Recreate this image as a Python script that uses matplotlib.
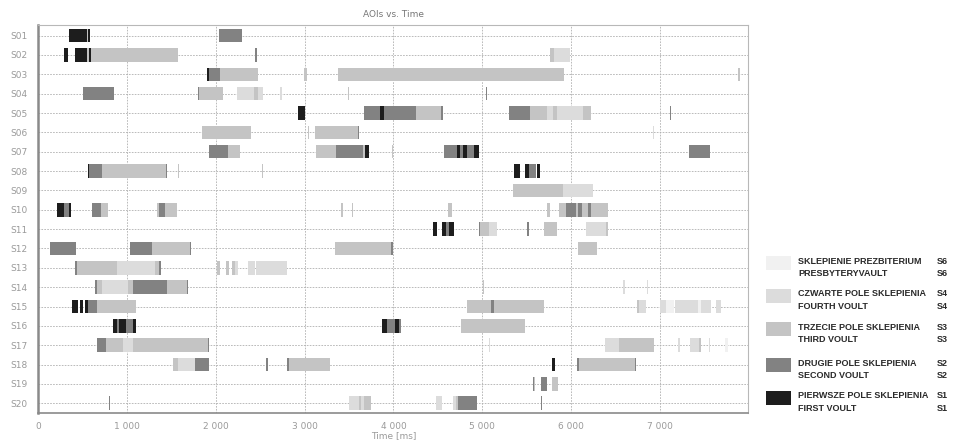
import matplotlib
matplotlib.use("Agg")
import matplotlib.pyplot as plt
from matplotlib.patches import Rectangle
from matplotlib.ticker import FuncFormatter

# AOI codes: 1 = first vault, 2 = second, 3 = third, 4 = fourth, 6 = presbytery
subjects = ["S%02d" % i for i in range(1, 21)]
x_ticks = [0, 1000, 2000, 3000, 4000, 5000, 6000, 7000]

# (start ms, end ms, aoi) per subject
s01 = [(346, 548, 1), (548, 565, 3), (565, 582, 1), (2035, 2300, 2)]
s02 = [(293, 338, 1), (410, 552, 1), (552, 567, 3), (567, 593, 1), (593, 1570, 3),
       (2440, 2465, 2), (5765, 5810, 3), (5810, 5987, 4)]
s03 = [(1903, 1922, 1), (1922, 2043, 2), (2043, 2470, 3), (2992, 3030, 3),
       (3378, 5923, 3), (7885, 7900, 3)]
s04 = [(507, 856, 2), (1800, 1815, 2), (1815, 2083, 3), (2234, 2432, 4), (2432, 2470, 3),
       (2470, 2533, 4), (2725, 2745, 4), (3483, 3500, 3), (5040, 5058, 2)]
s05 = [(2928, 3003, 1), (3671, 3848, 2), (3848, 3892, 1), (3892, 4253, 2), (4253, 4535, 3),
       (4535, 4555, 2), (5300, 5537, 2), (5537, 5725, 3), (5725, 5800, 4), (5800, 5845, 3),
       (5845, 6137, 4), (6137, 6231, 3), (7113, 7128, 2)]
s06 = [(1840, 2392, 3), (3033, 3046, 3), (3116, 3596, 3), (3596, 3616, 2), (6923, 6937, 4)]
s07 = [(1926, 2132, 2), (2132, 2271, 3), (3127, 3352, 3), (3352, 3652, 2), (3652, 3675, 3),
       (3682, 3720, 1), (3985, 3998, 3), (4568, 4711, 2), (4711, 4748, 1), (4748, 4786, 2),
       (4786, 4831, 1), (4831, 4906, 2), (4906, 4966, 1), (7331, 7571, 2)]
s08 = [(563, 574, 1), (574, 714, 2), (714, 1435, 3), (1435, 1450, 2), (1570, 1585, 3),
       (2515, 2530, 3), (5357, 5425, 1), (5484, 5522, 1), (5522, 5604, 2), (5612, 5649, 1)]
s09 = [(5349, 5905, 3), (5905, 6243, 4)]
s10 = [(214, 289, 1), (289, 346, 2), (346, 368, 1), (608, 703, 2), (703, 781, 3),
       (1333, 1363, 3), (1363, 1427, 2), (1427, 1566, 3), (3413, 3428, 3), (3529, 3544, 3),
       (4617, 4662, 3), (5728, 5765, 3), (5869, 5942, 3), (5942, 6055, 2), (6055, 6085, 3),
       (6085, 6130, 2), (6130, 6193, 3), (6193, 6231, 2), (6231, 6418, 3)]
s11 = [(4441, 4486, 1), (4542, 4591, 1), (4591, 4628, 2), (4628, 4681, 1), (4959, 4973, 2),
       (4973, 5075, 3), (5075, 5165, 4), (5510, 5525, 2), (5694, 5844, 3), (6175, 6400, 4),
       (6400, 6418, 3)]
s12 = [(135, 425, 2), (1033, 1284, 2), (1284, 1710, 3), (1710, 1725, 2), (3341, 3970, 3),
       (3970, 3990, 2), (6074, 6295, 3)]
s13 = [(410, 432, 2), (432, 883, 3), (883, 1314, 4), (1314, 1359, 3), (1359, 1385, 2),
       (2009, 2046, 3), (2110, 2151, 3), (2185, 2215, 3), (2215, 2249, 4), (2365, 2440, 4),
       (2451, 2797, 4)]
s14 = [(638, 657, 2), (657, 714, 3), (714, 1007, 4), (1007, 1063, 3), (1063, 1446, 2),
       (1446, 1671, 3), (1671, 1690, 2), (5004, 5018, 3), (6587, 6606, 4), (6855, 6869, 4)]
s15 = [(383, 443, 1), (470, 507, 1), (526, 563, 1), (563, 657, 2), (657, 1097, 3),
       (4824, 5097, 3), (5097, 5131, 2), (5131, 5694, 3), (6745, 6767, 3), (6767, 6843, 4),
       (7008, 7076, 4), (7076, 7160, 6), (7177, 7432, 4), (7432, 7470, 6), (7470, 7583, 4),
       (7639, 7695, 4)]
s16 = [(845, 883, 1), (883, 912, 2), (912, 988, 1), (988, 1070, 2), (1070, 1097, 1),
       (3867, 3923, 1), (3923, 4017, 2), (4017, 4065, 1), (4065, 4080, 2), (4767, 5480, 3)]
s17 = [(657, 762, 2), (762, 957, 3), (957, 1070, 4), (1070, 1914, 3), (1914, 1925, 2),
       (5072, 5086, 4), (6381, 6542, 4), (6542, 6933, 3), (7211, 7225, 4), (7338, 7443, 4),
       (7443, 7470, 3), (7556, 7570, 4), (7732, 7770, 6)]
s18 = [(1520, 1577, 3), (1577, 1765, 4), (1765, 1926, 2), (2562, 2582, 2), (2797, 2820, 2),
       (2820, 3285, 3), (5792, 5822, 1), (6069, 6092, 2), (6092, 6719, 3), (6719, 6730, 2)]
s19 = [(5574, 5585, 2), (5585, 5600, 3), (5668, 5725, 2), (5792, 5855, 3)]
s20 = [(800, 811, 2), (3502, 3615, 4), (3615, 3640, 3), (3640, 3671, 4), (3671, 3743, 3),
       (4478, 4553, 4), (4666, 4703, 4), (4703, 4733, 3), (4733, 4943, 2), (5661, 5675, 2)]

rows = [s01, s02, s03, s04, s05, s06, s07, s08, s09, s10,
        s11, s12, s13, s14, s15, s16, s17, s18, s19, s20]

aoi_colors = {1: "#1d1d1d", 2: "#828282", 3: "#c4c4c4", 4: "#dcdcdc", 6: "#f1f1f1"}

legend_codes = [6, 4, 3, 2, 1]
legend_pl = ["SKLEPIENIE PREZBITERIUM", "CZWARTE POLE SKLEPIENIA", "TRZECIE POLE SKLEPIENIA",
             "DRUGIE POLE SKLEPIENIA", "PIERWSZE POLE SKLEPIENIA"]
legend_en = ["PRESBYTERYVAULT", "FOURTH VOULT", "THIRD VOULT", "SECOND VOULT", "FIRST VOULT"]

W, H = 962, 442
fig = plt.figure(figsize=(W / 100, H / 100), dpi=100)
ax = fig.add_axes([38.3 / W, (H - 413.3) / H, (748.5 - 38.3) / W, (413.3 - 25) / H])

for i, segs in enumerate(rows):
    for start, end, aoi in segs:
        ax.barh(i + 1, end - start, left=start, height=0.7,
                color=aoi_colors[aoi], linewidth=0, zorder=3)

ax.set_xlim(0, 8000)
ax.set_ylim(20.52, 0.45)
ax.set_yticks(range(1, 21))
ax.set_yticklabels(subjects)
ax.set_xticks(x_ticks)
ax.xaxis.set_major_formatter(FuncFormatter(lambda v, p: "{:,}".format(int(v)).replace(",", " ")))
ax.tick_params(axis="both", length=0, labelsize=6.5, labelcolor="#9a9a9a")
ax.tick_params(axis="y", pad=8)
ax.tick_params(axis="x", pad=6)
ax.grid(True, color="#b0b0b0", linestyle=(0, (2, 1.5)), linewidth=0.6, zorder=0)
for side in ["top", "right"]:
    ax.spines[side].set_color("#b8b8b8")
    ax.spines[side].set_linewidth(0.8)
ax.spines["left"].set_color("#8a8a8a")
ax.spines["left"].set_linewidth(1.8)
ax.spines["bottom"].set_color("#8a8a8a")
ax.spines["bottom"].set_linewidth(1.2)

ax.set_title("AOIs vs. Time", fontsize=6.5, color="#777777", pad=6)
ax.set_xlabel("Time [ms]", fontsize=6.5, color="#9a9a9a", labelpad=0)

# legend on the right
line1_y = [261, 294, 327, 363, 396]
for code, pl, en, y in zip(legend_codes, legend_pl, legend_en, line1_y):
    fig.add_artist(Rectangle((766 / W, (H - y - 9) / H), 25 / W, 14 / H,
                             transform=fig.transFigure, color=aoi_colors[code], lw=0))
    for txt, yy in [(pl, y), (en, y + 12.5)]:
        fig.text(798 / W, (H - yy) / H, txt, fontsize=6.5, fontweight="bold",
                 family="Liberation Sans", color="#2a2a2a", va="center", ha="left")
        fig.text(937 / W, (H - yy) / H, "S%d" % code, fontsize=6.5, fontweight="bold",
                 family="Liberation Sans", color="#2a2a2a", va="center", ha="left")

fig.savefig("out.png", dpi=100)
